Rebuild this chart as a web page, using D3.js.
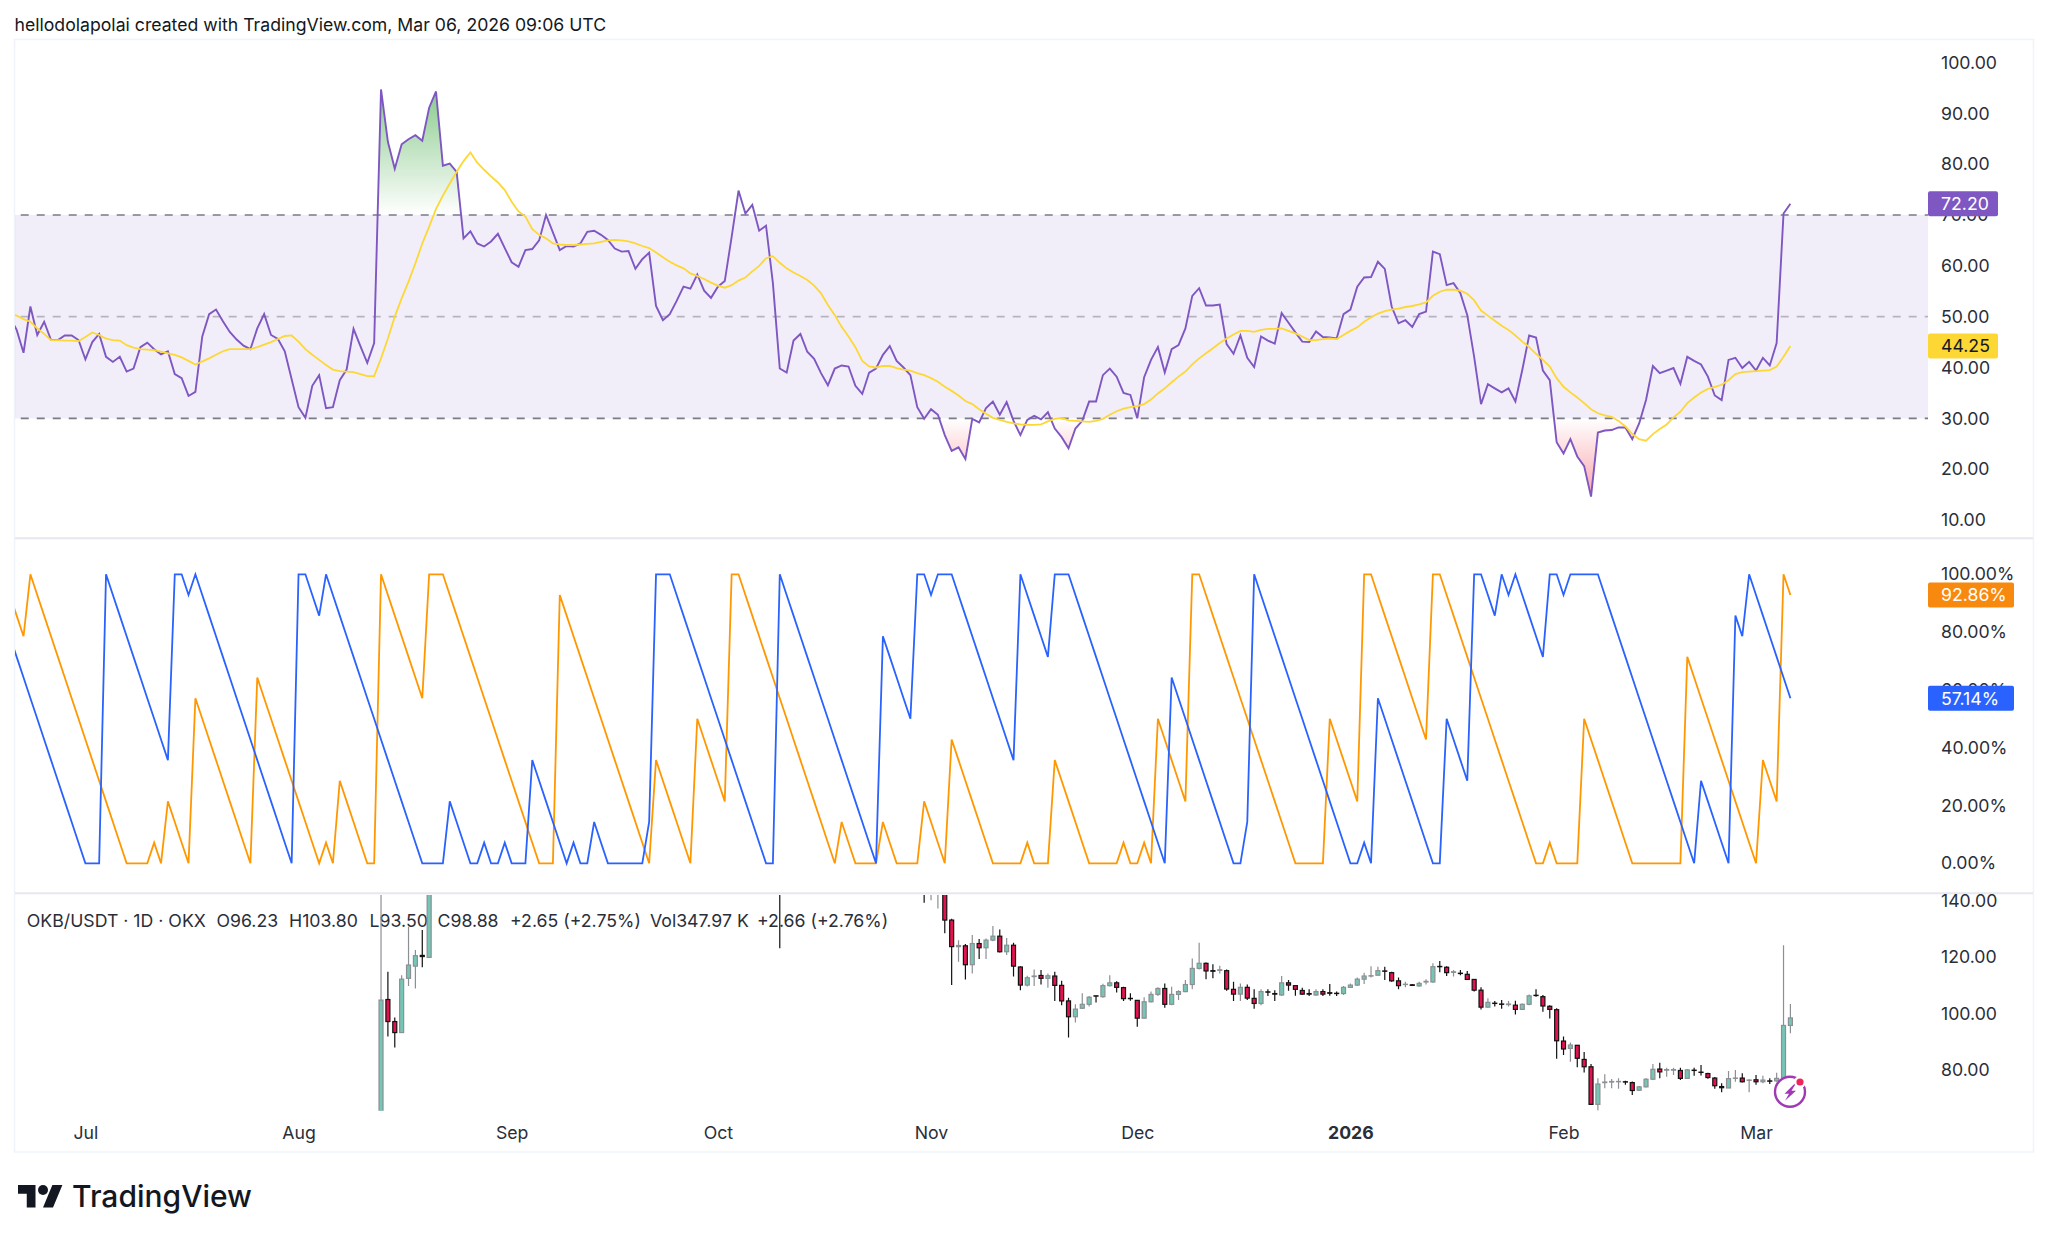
<!DOCTYPE html>
<html><head><meta charset="utf-8">
<style>
html,body{margin:0;padding:0;background:#fff}
svg{display:block}
text{font-family:Inter,Roboto,sans-serif}
</style>
<script src="https://cdn.jsdelivr.net/npm/d3@7/dist/d3.min.js"></script>
</head><body>
<svg id="c" width="2048" height="1241"></svg>
<script>
const headerText = "hellodolapolai created with TradingView.com, Mar 06, 2026 09:06 UTC";
const rsiTicks = [100,90,80,70,60,50,40,30,20,10];
const aroonTicks = [100,80,60,40,20,0];
const priceTicks = [140,120,100,80];
const monthDays = [10,41,72,102,133,163,194,225,253];
const monthLabels = ["Jul","Aug","Sep","Oct","Nov","Dec","2026","Feb","Mar"];
const legendParts = ["OKB/USDT · 1D · OKX","O96.23","H103.80","L93.50","C98.88","+2.65 (+2.75%)","Vol347.97 K","+2.66 (+2.76%)"];
const firstDay = -1;

const rsi = [50.0,47.4,42.9,52.0,46.4,49.0,45.4,45.4,46.3,46.3,45.4,41.6,45.0,46.6,42.1,41.1,42.1,39.2,39.8,44.0,44.9,
43.6,42.6,43.2,38.7,37.9,34.4,35.2,46.1,50.5,51.4,49.1,47.0,45.5,44.3,43.6,47.7,50.5,46.4,45.6,43.2,
37.7,32.2,30.1,36.4,38.5,32.0,32.2,37.5,39.6,47.6,44.2,40.9,44.8,94.7,84.4,79.1,83.9,84.9,85.7,84.6,
91.1,94.3,79.7,80.1,78.5,65.4,66.8,64.4,63.8,64.8,66.3,63.5,60.7,59.8,63.1,63.3,65.0,70.0,66.6,63.1,
63.9,63.8,64.4,66.7,66.9,66.1,65.1,63.4,62.8,62.9,59.4,61.3,62.6,52.1,49.3,50.5,53.1,55.9,55.5,58.3,
55.1,53.7,55.9,57.0,65.7,74.8,70.3,72.0,66.9,67.9,56.6,39.8,39.0,45.3,46.6,43.1,41.7,38.9,36.5,39.8,
40.4,40.2,36.4,34.8,39.0,39.8,42.5,44.2,41.3,40.0,38.5,32.2,29.9,31.8,30.7,26.7,23.6,24.3,22.0,29.9,
29.2,32.0,33.3,30.7,33.2,29.5,26.7,29.7,30.5,29.8,31.2,28.0,26.3,24.1,28.0,29.5,33.3,33.3,38.5,39.8,
38.2,35.0,34.6,30.0,38.1,41.5,44.0,39.0,43.6,44.4,47.7,54.1,55.6,52.2,52.2,52.4,44.6,42.7,46.3,41.9,
40.1,46.1,45.3,44.7,50.7,48.8,46.9,45.1,45.0,47.1,46.0,45.9,45.7,50.5,51.4,55.9,57.7,57.8,60.8,59.4,
52.0,48.7,49.3,48.0,50.5,51.0,62.8,62.3,56.2,56.6,54.6,50.3,42.1,32.8,36.7,35.9,35.1,35.9,33.3,39.5,
46.3,45.9,39.4,37.5,25.3,23.1,25.9,22.5,20.6,14.6,27.2,27.6,27.7,28.2,28.2,25.9,29.0,33.6,40.3,38.9,
39.4,39.9,36.8,42.1,41.3,40.6,38.2,34.5,33.6,41.5,41.9,39.9,41.1,39.4,41.9,40.4,44.8,70.3,72.2];

const rsiMa = [50.6,50.2,49.5,49.0,47.7,46.6,45.4,45.4,45.3,45.3,45.2,46.0,46.9,46.4,45.7,45.4,45.3,44.4,43.9,43.6,43.5,
43.4,43.1,42.8,42.5,42.0,41.3,40.6,41.2,41.8,42.5,43.2,43.6,43.6,43.6,43.6,44.0,44.5,45.0,45.6,46.2,
46.3,45.1,43.6,42.5,41.5,40.5,39.6,39.3,39.2,39.1,38.7,38.3,38.3,41.8,45.7,50.0,53.6,56.9,60.5,64.4,
67.7,71.2,73.8,76.2,78.5,80.6,82.3,80.3,78.9,77.6,76.4,74.9,72.6,70.7,69.7,67.2,66.1,65.4,64.4,64.2,
64.1,64.1,64.2,64.3,64.4,64.7,65.0,65.1,65.0,64.8,64.4,63.9,63.5,62.6,61.7,60.8,60.1,59.5,58.5,58.0,
57.4,56.7,56.1,55.7,56.2,57.1,57.7,58.9,60.0,61.5,61.9,60.6,59.5,58.7,58.0,57.2,56.1,54.6,52.3,50.3,
48.0,46.1,44.0,41.3,40.2,40.0,40.3,40.3,39.9,39.6,39.4,38.9,38.5,37.9,37.2,36.2,35.4,34.5,33.4,32.8,
31.8,30.9,30.1,29.7,29.3,29.0,28.8,28.7,28.7,28.8,29.4,29.9,30.1,29.6,29.5,29.4,29.3,29.5,29.9,30.7,
31.4,31.9,32.2,32.4,32.8,33.7,34.9,35.9,37.1,38.2,39.2,40.6,41.8,42.8,43.8,44.8,45.7,46.5,47.2,47.2,
47.0,47.4,47.6,47.6,47.7,47.2,46.7,46.1,45.4,45.4,45.6,45.7,45.6,46.4,47.2,47.9,49.0,49.9,50.6,51.1,
51.4,51.6,51.9,52.1,52.4,52.8,54.1,54.9,55.3,55.3,55.1,54.5,53.2,51.2,50.2,49.2,48.2,47.4,46.3,45.1,
44.0,42.7,41.5,40.2,37.9,36.2,35.1,34.1,33.0,31.8,31.0,30.6,30.3,29.5,28.4,26.9,25.9,25.6,26.9,27.9,
28.8,30.2,31.3,33.0,34.1,35.1,35.8,36.2,36.6,37.5,38.7,39.1,39.2,39.3,39.4,39.5,40.2,42.1,44.25];

const aroonUp = [92.86,85.71,78.57,100,92.86,85.71,78.57,71.43,64.29,57.14,50,42.86,35.71,28.57,21.43,14.29,7.14,0,0,0,0,
7.14,0,21.43,14.29,7.14,0,57.14,50,42.86,35.71,28.57,21.43,14.29,7.14,0,64.29,57.14,50,42.86,35.71,28.57,21.43,14.29,7.14,0,
7.14,0,28.57,21.43,14.29,7.14,0,0,
100,92.86,85.71,78.57,71.43,64.29,57.14,
100,100,100,
92.86,85.71,78.57,71.43,64.29,57.14,50,42.86,35.71,28.57,21.43,14.29,7.14,0,
0,0,
92.86,85.71,78.57,71.43,64.29,57.14,50,42.86,35.71,28.57,21.43,14.29,7.14,0,
35.71,28.57,21.43,14.29,7.14,0,
50,42.86,35.71,28.57,21.43,
100,100,
92.86,85.71,78.57,71.43,64.29,57.14,50,42.86,35.71,28.57,21.43,14.29,7.14,0,
14.29,7.14,0,0,0,0,
14.29,7.14,0,0,0,0,
21.43,14.29,7.14,0,
42.86,35.71,28.57,21.43,14.29,7.14,0,
0,0,0,0,
7.14,0,0,0,
35.71,28.57,21.43,14.29,7.14,0,
0,0,0,0,
7.14,0,0,7.14,0,
50,42.86,35.71,28.57,21.43,
100,100,
92.86,85.71,78.57,71.43,64.29,57.14,50,42.86,35.71,28.57,21.43,14.29,7.14,0,
0,0,0,0,
50,42.86,35.71,28.57,21.43,
100,100,
92.86,85.71,78.57,71.43,64.29,57.14,50,42.86,
100,100,
92.86,85.71,78.57,71.43,64.29,57.14,50,42.86,35.71,28.57,21.43,14.29,7.14,0,
0,
7.14,0,0,0,0,
50,42.86,35.71,28.57,21.43,14.29,7.14,0,
0,0,0,0,0,0,0,
71.43,64.29,57.14,50,42.86,35.71,28.57,21.43,14.29,7.14,0,
35.71,28.57,21.43,
100,92.86];

const aroonDown = [78.57,71.43,64.29,57.14,50,42.86,35.71,28.57,21.43,14.29,7.14,0,
0,0,
100,92.86,85.71,78.57,71.43,64.29,57.14,50,42.86,35.71,
100,100,92.86,100,
92.86,85.71,78.57,71.43,64.29,57.14,50,42.86,35.71,28.57,21.43,14.29,7.14,0,
100,100,92.86,85.71,100,
92.86,85.71,78.57,71.43,64.29,57.14,50,42.86,35.71,28.57,21.43,14.29,7.14,0,
0,0,0,
21.43,14.29,7.14,0,
0,7.14,0,0,7.14,0,0,0,
35.71,28.57,21.43,14.29,7.14,0,
7.14,0,0,
14.29,7.14,0,
0,0,0,0,0,
14.29,
100,100,100,
92.86,85.71,78.57,71.43,64.29,57.14,50,42.86,35.71,28.57,21.43,14.29,7.14,0,
0,
100,
92.86,85.71,78.57,71.43,64.29,57.14,50,42.86,35.71,28.57,21.43,14.29,7.14,0,
78.57,71.43,64.29,57.14,50,
100,100,92.86,100,100,100,
92.86,85.71,78.57,71.43,64.29,57.14,50,42.86,35.71,
100,92.86,85.71,78.57,71.43,
100,100,100,
92.86,85.71,78.57,71.43,64.29,57.14,50,42.86,35.71,28.57,21.43,14.29,7.14,0,
64.29,57.14,50,42.86,35.71,28.57,21.43,14.29,7.14,0,
0,
14.29,
100,
92.86,85.71,78.57,71.43,64.29,57.14,50,42.86,35.71,28.57,21.43,14.29,7.14,0,
0,7.14,0,
57.14,50,42.86,35.71,28.57,21.43,14.29,7.14,0,
0,
50,42.86,35.71,28.57,
100,100,92.86,85.71,
100,92.86,100,92.86,85.71,78.57,71.43,
100,100,92.86,
100,100,100,100,100,
92.86,85.71,78.57,71.43,64.29,57.14,50,42.86,35.71,28.57,21.43,14.29,7.14,0,
28.57,21.43,14.29,7.14,0,
85.71,78.57,
100,92.86,85.71,78.57,71.43,64.29,57.14];

const candleDay = [53,54,55,56,57,58,59,60,111,132,133,134,135,136,137,138,139,140,141,142,143,144,145,146,147,148,149,150,151,152,153,154,155,156,157,158,159,160,161,162,163,164,165,166,167,168,169,170,171,172,173,174,175,176,177,178,179,180,181,182,183,184,185,186,187,188,189,190,191,192,193,194,195,196,197,198,199,200,201,202,203,204,205,206,207,208,209,210,211,212,213,214,215,216,217,218,219,220,221,222,223,224,225,226,227,228,229,230,231,232,233,234,235,236,237,238,239,240,241,242,243,244,245,246,247,248,249,250,251,252,253,254,255,256,257,258];
const candleOpen = [46,105.4,97.6,93.7,112.9,117.2,121,120.3,160,155,148,150,147,133.5,124.1,124.4,117.7,125.2,123.7,126.4,127.8,122.3,124.6,116.9,110.5,113.5,113.9,112.9,113.7,110.4,104.9,99.3,102.3,103.7,106.7,106.4,110.3,111.3,109.6,105.8,105.1,98.8,104.6,107.2,109.3,103.7,107.2,108.2,110.7,116.4,118.2,115.6,115.7,115.6,109,107.3,109.7,105.8,104,108.1,107.5,107,111.3,110.3,108.6,107.5,107,108.2,107.8,107.6,107.5,109.7,110.5,112.6,113.7,114,115.5,114.9,112,110.7,110.6,110.2,111.6,111.6,117.1,116.8,115,114.7,114.3,112.5,108.7,102.7,104.1,103.8,103.6,103.4,101.9,103.7,106.9,106.4,103,101.8,90.7,88.1,89.2,84.2,81.6,68.3,76,76.2,76.3,76.3,76,73.3,74.5,77.2,80.8,80.4,80.4,80.3,77.5,80.4,79.7,79.2,77.6,74.6,74.1,77.5,77.6,76.8,77,76.3,76.6,76.6,77.5,96.23];
const candleHigh = [160,115.2,99,114,131.1,122.9,130,160,170,160,155,155,150,134,126.4,125,128.2,126.8,127,131.4,130.2,127.2,125.5,117.2,113.8,116,115.8,114.6,115.2,112,106,103.7,107.6,106.6,106.7,111,114,111.9,109.9,107.6,105.2,106.2,108.2,109.7,111.1,109.9,108.7,112.3,119.9,125.5,118.5,117.9,117.3,116,111.7,111.1,110.7,109,109,109,108.7,113.7,112.3,110.3,109.6,109,109,109,110.9,108.2,110.2,111.1,113.2,114.9,117.2,117,117,115.2,113.2,111.7,110.9,111.7,112.6,118.2,119,117.2,115.8,115.8,115.5,112.5,109.7,105.8,104.9,105.2,104.9,105,104,107.2,109,107,103.4,102.3,92.3,90.2,89.2,86.8,82.6,77.5,79,77.3,77.5,76.7,76.4,74.8,77.5,82.6,83,81.3,81.3,81.3,80.8,81.3,82.2,79.5,78,75.8,80.1,80.5,79.3,77.2,78.7,78.4,77.5,79.5,124.6,103.8];
const candleLow = [46,92.3,88.4,93.7,110.2,109.3,116.8,120.3,123.5,139.6,140.5,137.6,128.8,110.5,118.8,112.5,114.6,119.7,119.7,126,122,121.1,113.5,108.7,110,110.2,110.7,109.6,104.9,103.4,92,97.3,102,102.9,104.3,106,110,107.9,104.9,105,95.8,98.8,104.3,106.6,102.5,103.4,105.2,108,109,116,112.6,112.9,114.6,108.5,104.9,104.9,105.2,102.1,103.4,106.6,104.9,106.6,108.5,106.7,107,106.6,106.6,106.6,106.7,106.6,107,109.5,110.2,110.9,113.2,113.9,112.3,111.7,109,109.7,110.2,109.9,110.7,111.3,115,113.7,113.5,114,112.3,108.2,101.9,102.5,102.9,102.1,102.9,100.1,101.9,103.4,106.4,101.1,98.7,84.4,85.8,83.4,81.4,79.6,68.3,66.1,74,74,73.8,75.2,71.6,73,74.3,76.9,77.5,78.1,78.7,76.9,77.3,78.4,78.5,77.4,73.8,72.6,74.1,76.3,76,72.6,75.2,75.8,75.5,76.3,76.3,93.5];
const candleClose = [105.2,97.6,93.7,112.6,117.6,120.9,120.6,150,150,150,150,152,133.5,124.1,124.5,117.7,125.2,123.7,126.4,127.8,122.3,124.6,117.2,110.5,113.1,113.7,112.9,113.8,110.4,104.9,99.3,102,103.7,106.2,106.6,110.3,111.3,109.7,105.7,105.7,98.8,104.6,107.2,109.3,103.7,107.2,108.2,110.7,116.4,118.2,115.5,115.4,115.9,109.1,107.3,109.7,105.9,104,108.2,108,107.3,111.3,110.5,109,107.3,107.3,108.2,107.3,107.6,107.5,109.7,110.5,112.6,113.7,113.8,115.6,115.4,112,110.3,110.8,110.4,111.1,111.8,117,117,114.9,115.2,114.6,112.5,108.7,102.7,104.4,104,103.7,103.8,101.9,103.7,106.7,106.8,103.1,101.9,90.8,87.9,89.3,84.6,81.6,68.3,75.5,76.2,76.4,76.4,76.2,73.2,74.5,77.2,80.7,79.8,80.6,80.6,77.5,80.5,80.3,79.6,77.8,74.9,74.2,77.4,77.6,76.3,76.9,76.3,76.9,76.5,77.5,96.23,98.88];

const svg = d3.select("#c");
const x = d3.scaleLinear().domain([0,258]).range([16.65,1790.4]);
const yRsi = d3.scaleLinear().domain([10,100]).range([520,62.5]);
const yAr = d3.scaleLinear().domain([0,100]).range([863.3,574.3]);
const yP = d3.scaleLinear().domain([80,140]).range([1071.3,901.7]);
const L = 15, R = 1928, FR = 2033, textCol = "#2a2e39", fs = 17.7;
const last = a=>a[a.length-1];

const defs = svg.append("defs");
const grad = (id,y1,c1,y2,c2)=>{const g=defs.append("linearGradient").attr("id",id).attr("gradientUnits","userSpaceOnUse").attr("x1",0).attr("x2",0).attr("y1",y1).attr("y2",y2);
 g.append("stop").attr("offset",0).attr("stop-color",c1); g.append("stop").attr("offset",1).attr("stop-color",c2);};
grad("gGreen",yRsi(100),"rgba(76,175,80,0.8)",yRsi(70),"rgba(76,175,80,0)");
grad("gRed",yRsi(30),"rgba(242,54,69,0)",yRsi(10),"rgba(242,54,69,0.58)");
const clip=(id,x0,y0,w,h)=>defs.append("clipPath").attr("id",id).append("rect").attr("x",x0).attr("y",y0).attr("width",w).attr("height",h);
clip("cHi",L,40,R-L,yRsi(70)-40);
clip("cLo",L,yRsi(30),R-L,538-yRsi(30));
clip("cRsi",L,40,R-L,498);
clip("cAr",L,540,R-L,352);
clip("cPrice",L,895,R-L,1110.7-895);

svg.append("rect").attr("x",L-.5).attr("y",39.5).attr("width",FR-L+1).attr("height",1112.5).attr("fill","none").attr("stroke","#f0f3fa").attr("stroke-width",1.5);
svg.append("text").attr("x",14.5).attr("y",31).attr("font-size",17.66).attr("fill","#131722").text(headerText);

// RSI pane
svg.append("rect").attr("x",L).attr("y",yRsi(70)).attr("width",R-L).attr("height",yRsi(30)-yRsi(70)).attr("fill","rgba(126,87,194,0.1)");
[[70,"#787b86"],[50,"rgba(120,123,134,0.5)"],[30,"#787b86"]].forEach(([v,c])=>{
 svg.append("line").attr("x1",L).attr("x2",R).attr("y1",yRsi(v)).attr("y2",yRsi(v)).attr("stroke",c).attr("stroke-width",1.6).attr("stroke-dasharray","8 8").attr("stroke-dashoffset",10.3);
});
const idx = rsi.map((_,i)=>i);
const areaTo = lvl=>d3.area().x(i=>x(i+firstDay)).y0(yRsi(lvl)).y1(i=>yRsi(rsi[i]));
svg.append("path").attr("d",areaTo(70)(idx)).attr("fill","url(#gGreen)").attr("clip-path","url(#cHi)");
svg.append("path").attr("d",areaTo(30)(idx)).attr("fill","url(#gRed)").attr("clip-path","url(#cLo)");
const lineOf=(arr,y)=>d3.line().x(i=>x(i+firstDay)).y(i=>y(arr[i]))(arr.map((_,i)=>i));
svg.append("path").attr("d",lineOf(rsi,yRsi)).attr("fill","none").attr("stroke","#7e57c2").attr("stroke-width",1.9).attr("clip-path","url(#cRsi)");
svg.append("path").attr("d",lineOf(rsiMa,yRsi)).attr("fill","none").attr("stroke","#fdd835").attr("stroke-width",1.8).attr("clip-path","url(#cRsi)");

// Aroon pane
svg.append("path").attr("d",lineOf(aroonUp,yAr)).attr("fill","none").attr("stroke","#ff9800").attr("stroke-width",1.8).attr("clip-path","url(#cAr)");
svg.append("path").attr("d",lineOf(aroonDown,yAr)).attr("fill","none").attr("stroke","#2962ff").attr("stroke-width",1.8).attr("clip-path","url(#cAr)");

// Separators
[538.3,893.3].forEach(y=>svg.append("line").attr("x1",L).attr("x2",FR).attr("y1",y).attr("y2",y).attr("stroke","#e6e8f0").attr("stroke-width",2));

// Legend
const legendX=[26.8,216.5,289,369.6,437.5,510,650,757];
svg.append("g").selectAll("text").data(legendParts).join("text").attr("x",(d,i)=>legendX[i]).attr("y",926.5).attr("font-size",fs).attr("fill",textCol).text(d=>d);

// Candles
const gC = svg.append("g").attr("clip-path","url(#cPrice)");
const candles = gC.selectAll("g").data(candleDay).join("g");
const up = i=>candleClose[i]>=candleOpen[i];
candles.append("line").attr("x1",d=>x(d)).attr("x2",d=>x(d)).attr("y1",(d,i)=>yP(candleHigh[i])).attr("y2",(d,i)=>yP(candleLow[i])).attr("stroke",(d,i)=>up(i)?"#8c8f94":"#111").attr("stroke-width",1.2);
candles.append("rect").attr("x",d=>x(d)-2).attr("width",4)
 .attr("y",(d,i)=>yP(Math.max(candleOpen[i],candleClose[i])))
 .attr("height",(d,i)=>Math.abs(yP(candleOpen[i])-yP(candleClose[i])))
 .attr("fill",(d,i)=>up(i)?"#75c6b5":"#e3134f").attr("stroke",(d,i)=>up(i)?"#8c8f94":"#111").attr("stroke-width",1.2);

// Axes
const styleAxis=g=>{g.select(".domain").remove();g.selectAll("text").attr("font-size",fs).attr("fill",textCol).attr("font-family","Inter,Roboto,sans-serif");};
const axisR=(y,ticks,fmt)=>d3.axisRight(y).tickValues(ticks).tickSize(0).tickPadding(0).tickFormat(fmt);
svg.append("g").attr("transform","translate(1941,0)").call(axisR(yRsi,rsiTicks,d3.format(".2f"))).call(styleAxis);
svg.append("g").attr("transform","translate(1941,0)").call(axisR(yAr,aroonTicks,d=>d3.format(".2f")(d)+"%")).call(styleAxis);
svg.append("g").attr("transform","translate(1941,-1)").call(axisR(yP,priceTicks,d3.format(".2f"))).call(styleAxis);
svg.append("g").attr("transform","translate(0,1126)").call(d3.axisBottom(x).tickValues(monthDays).tickSize(0).tickPadding(0).tickFormat((d,i)=>monthLabels[i]))
 .call(styleAxis).call(g=>g.selectAll("text").attr("font-weight",d=>d===194?700:400));

// Badges
const badge=(yy,w,fill,col,txt)=>{
 svg.append("rect").attr("x",1928).attr("y",yy-12.5).attr("width",w).attr("height",25).attr("rx",2).attr("fill",fill);
 svg.append("text").attr("x",1941).attr("y",yy).attr("dy",".36em").attr("font-size",fs).attr("fill",col).text(txt);
};
badge(yRsi(last(rsi)),70,"#7e57c2","#fff",last(rsi).toFixed(2));
badge(yRsi(last(rsiMa)),70,"#fdd835","#131722",last(rsiMa).toFixed(2));
badge(yAr(last(aroonUp)),86,"#f7890f","#fff",last(aroonUp).toFixed(2)+"%");
badge(yAr(last(aroonDown)),86,"#2962ff","#fff",last(aroonDown).toFixed(2)+"%");

// Flash icon
const ic=svg.append("g").attr("transform","translate(1790,1091.7)");
ic.append("circle").attr("r",15).attr("fill","#fff").attr("stroke","#a03ab4").attr("stroke-width",2.4);
ic.append("path").attr("d","M5,-8.5 L-5.5,2 L-1,2 L-5,9 L6,-1 L1.5,-1 L6,-8.5 Z").attr("fill","#a03ab4");
svg.append("circle").attr("cx",1800).attr("cy",1082).attr("r",6).attr("fill","#fff");
svg.append("circle").attr("cx",1800).attr("cy",1082).attr("r",3.6).attr("fill","#f0255a");

// Logo
const logo=svg.append("g").attr("transform","translate(18,1180) scale(1.25)").attr("fill","#131722");
logo.append("path").attr("d","M14 22H7V11H0V4h14v18zM28 22h-8l7.5-18h8L28 22z");
logo.append("circle").attr("cx",20).attr("cy",8).attr("r",4);
svg.append("text").attr("x",72).attr("y",1207).attr("font-size",30).attr("font-weight",500).attr("fill","#131722").text("TradingView");
</script>
</body></html>
